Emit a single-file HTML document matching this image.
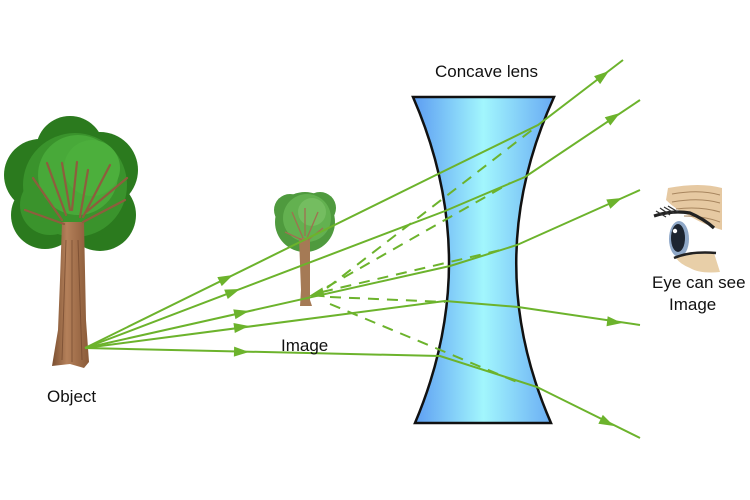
<!DOCTYPE html>
<html><head><meta charset="utf-8"><style>
html,body{margin:0;padding:0;background:#fff;}
svg{display:block;}
text{font-family:"Liberation Sans",sans-serif;font-size:17px;fill:#111;}
</style></head><body>
<svg width="750" height="500" viewBox="0 0 750 500" xmlns="http://www.w3.org/2000/svg">
<defs>
<linearGradient id="lg" x1="0" x2="1" y1="0" y2="0">
<stop offset="0" stop-color="#5c9cf2"/>
<stop offset="0.5" stop-color="#a2f6fd"/>
<stop offset="1" stop-color="#68aaf3"/>
</linearGradient>
<linearGradient id="trunk" x1="0" x2="1">
<stop offset="0" stop-color="#7a4f30"/>
<stop offset="0.4" stop-color="#b4805a"/>
<stop offset="1" stop-color="#8a5a38"/>
</linearGradient>
</defs>

<!-- Big tree crown -->
<g>
<circle cx="40" cy="175" r="36" fill="#2b7a1e"/>
<circle cx="100" cy="170" r="38" fill="#2b7a1e"/>
<circle cx="70" cy="150" r="34" fill="#2b7a1e"/>
<circle cx="45" cy="215" r="34" fill="#2b7a1e"/>
<circle cx="100" cy="215" r="36" fill="#2b7a1e"/>
<circle cx="72" cy="195" r="50" fill="#2b7a1e"/>
<circle cx="75" cy="185" r="52" fill="#3a932c"/>
<circle cx="50" cy="205" r="30" fill="#3a932c"/>
<circle cx="78" cy="175" r="40" fill="#48a939"/>
<circle cx="92" cy="168" r="28" fill="#4caf3c"/>
</g>
<!-- Big tree trunk -->
<path d="M62,222 L84,222 L86,320 L89,362 L84,368 L70,364 L52,366 L58,330 L60,280 Z" fill="url(#trunk)"/>
<g stroke="#8e5d3d" stroke-width="2.2" fill="none" stroke-linecap="round">
<path d="M66,215 L47,163"/>
<path d="M70,210 L62,163"/>
<path d="M72,210 L77,162"/>
<path d="M80,217 L88,170"/>
<path d="M83,217 L110,165"/>
<path d="M85,213 L127,178"/>
<path d="M83,222 L125,200"/>
<path d="M64,224 L25,210"/>
<path d="M62,220 L33,178"/>
</g>
<g stroke="#6a4028" stroke-width="1" fill="none" opacity="0.6">
<path d="M66,240 L62,360"/><path d="M72,240 L72,362"/><path d="M78,240 L82,360"/>
</g>

<!-- Small tree -->
<g>
<circle cx="305" cy="222" r="30" fill="#4f9a3e"/>
<circle cx="290" cy="210" r="16" fill="#4f9a3e"/>
<circle cx="320" cy="208" r="16" fill="#4f9a3e"/>
<circle cx="307" cy="218" r="24" fill="#63b150"/>
<circle cx="312" cy="212" r="14" fill="#74bd60"/>
</g>
<path d="M299,238 L310,238 L310,300 L312,306 L300,306 L301,290 Z" fill="#a57a55"/>
<g stroke="#a07050" stroke-width="1.3" fill="none">
<path d="M303,238 L292,212"/><path d="M305,236 L305,208"/><path d="M307,238 L318,212"/><path d="M302,240 L285,232"/><path d="M308,240 L323,228"/>
</g>

<!-- Lens -->
<path d="M413,97 L554,97 Q480,260 551,423 L415,423 Q484,260 413,97 Z" fill="url(#lg)" stroke="#111" stroke-width="2.5" stroke-linejoin="miter"/>

<!-- Rays -->
<g stroke="#6cb32c" stroke-width="2" fill="none">
<polyline points="85,348 437,174.5 538,125 623,60"/>
<polyline points="85,348 445,211 525,177 640,100"/>
<polyline points="85,348 450,266 517,245 640,190"/>
<polyline points="85,348 445,301 518,307 640,325"/>
<polyline points="85,348 440,356 537,387 640,438"/>
</g>
<g stroke="#6cb32c" stroke-width="2" fill="none" stroke-dasharray="11,8">
<line x1="327" y1="288" x2="532" y2="130"/>
<line x1="327" y1="287" x2="510" y2="183"/>
<line x1="322" y1="292" x2="505" y2="249"/>
<line x1="330" y1="297" x2="445" y2="302"/>
<line x1="330" y1="304" x2="517" y2="382"/>
</g>
<!-- Arrowheads -->
<g fill="#6cb32c">
<polygon points="0,0 -15,-5 -15,5" transform="translate(233,275) rotate(-26.2)"/>
<polygon points="0,0 -15,-5 -15,5" transform="translate(240,289) rotate(-20.9)"/>
<polygon points="0,0 -15,-5 -15,5" transform="translate(249,311) rotate(-12.7)"/>
<polygon points="0,0 -15,-5 -15,5" transform="translate(249,326) rotate(-7.7)"/>
<polygon points="0,0 -15,-5 -15,5" transform="translate(249,352) rotate(1.5)"/>
<polygon points="0,0 -15,-5 -15,5" transform="translate(609,71) rotate(-37.4)"/>
<polygon points="0,0 -15,-5 -15,5" transform="translate(620,113) rotate(-33.8)"/>
<polygon points="0,0 -15,-5 -15,5" transform="translate(622,198) rotate(-24.1)"/>
<polygon points="0,0 -15,-5 -15,5" transform="translate(622,323) rotate(6.7)"/>
<polygon points="0,0 -15,-5 -15,5" transform="translate(614,426) rotate(26.6)"/>
<polygon points="0,0 -15,-5 -15,5" transform="translate(309,296) rotate(166)"/>
</g>

<!-- Eye -->
<g>
<path d="M668,188 Q700,182 722,188 L722,230 Q702,224 690,216 Q676,210 666,200 Z" fill="#e6c9a2"/>
<g stroke="#a8865f" stroke-width="1" fill="none">
<path d="M672,194 Q700,189 720,195"/><path d="M672,202 Q700,197 720,203"/><path d="M676,209 Q700,206 720,212"/><path d="M684,216 Q704,216 720,222"/>
</g>
<path d="M654,216 Q672,210 690,213 Q704,219 714,228" stroke="#222" stroke-width="3.2" fill="none"/>
<path d="M656,211 L666,217 M660,208 L670,215 M664,207 L674,213 M668,206 L678,212" stroke="#333" stroke-width="1.3"/>
<ellipse cx="679" cy="239" rx="10" ry="18" fill="#8fa8c8"/>
<ellipse cx="678" cy="238" rx="7" ry="14" fill="#1c2430"/>
<circle cx="675" cy="231" r="2.2" fill="#fff"/>
<path d="M676,258 Q690,252 714,253 L720,272 Q700,274 690,268 Q680,264 676,258 Z" fill="#e8cfa8"/>
<path d="M674,258 Q690,251 716,253" stroke="#222" stroke-width="2.5" fill="none"/>
</g>

<!-- Labels -->
<text x="435" y="77">Concave lens</text>
<text x="47" y="402">Object</text>
<text x="281" y="351">Image</text>
<text x="652" y="288">Eye can see</text>
<text x="669" y="310">Image</text>
</svg>
</body></html>
